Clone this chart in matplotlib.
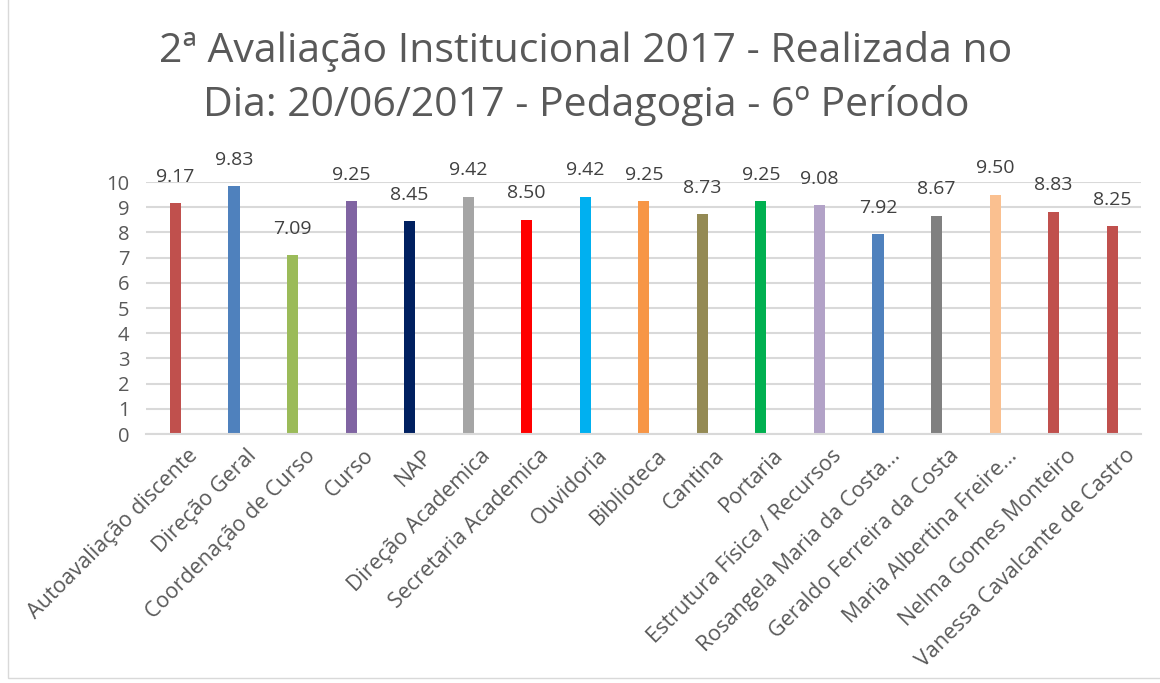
import matplotlib.pyplot as plt
from matplotlib.patches import Rectangle
from matplotlib.transforms import ScaledTranslation

plt.rcParams['font.family'] = ['Open Sans', 'DejaVu Sans']

# dados da avaliacao
labels = ['Autoavaliação discente', 'Direção Geral', 'Coordenação de Curso', 'Curso',
          'NAP', 'Direção Academica', 'Secretaria Academica', 'Ouvidoria', 'Biblioteca',
          'Cantina', 'Portaria', 'Estrutura Física / Recursos', 'Rosangela Maria da Costa...',
          'Geraldo Ferreira da Costa', 'Maria Albertina Freire...', 'Nelma Gomes Monteiro',
          'Vanessa Cavalcante de Castro']
notas = [9.17, 9.83, 7.09, 9.25, 8.45, 9.42, 8.50, 9.42, 9.25, 8.73, 9.25, 9.08,
         7.92, 8.67, 9.50, 8.83, 8.25]
cores = ['#C0504D', '#4F81BD', '#9BBB59', '#8064A2', '#002060', '#A5A5A5', '#FF0000',
         '#00B0F0', '#F79646', '#948A54', '#00B050', '#B2A2C7', '#4F81BD', '#808080',
         '#FAC090', '#C0504D', '#C0504D']
titulo = '2ª Avaliação Institucional 2017 - Realizada no\nDia: 20/06/2017 - Pedagogia - 6º Período'

fig = plt.figure(figsize=(11.6, 6.83), dpi=100)
ax = fig.add_axes([0.126, 0.3645, 0.858, 0.369])

x = range(len(labels))
ax.bar(x, notas, 0.19, color=cores, zorder=2)
for i, v in enumerate(notas):
    ax.annotate('%.2f' % v, (i, v), xytext=(0, 19), textcoords='offset points',
                ha='center', va='center', fontsize=14, color='#404040',
                annotation_clip=False)

ax.set_xlim(-0.5, len(labels) - 0.5)
ax.set_ylim(0, 10)
ax.set_yticks(range(0, 11))
ax.grid(axis='y', color='#D9D9D9', linewidth=1.5, zorder=0)
for s in ['top', 'right', 'left']:
    ax.spines[s].set_visible(False)
ax.spines['bottom'].set_color('#D9D9D9')
ax.spines['bottom'].set_linewidth(1.5)
ax.tick_params(axis='y', length=0, labelsize=14.5, labelcolor='#595959', pad=12)
ax.tick_params(axis='x', length=0, labelsize=15.5, labelcolor='#595959', pad=8)
ax.set_xticks(list(x))
ax.set_xticklabels(labels, rotation=45, ha='right', rotation_mode='anchor')
desloc = ScaledTranslation(0.12, 0, fig.dpi_scale_trans)
for t in ax.get_xticklabels():
    t.set_transform(t.get_transform() + desloc)

fig.text(0.505, 0.885, titulo, ha='center', va='center', fontsize=29.5,
         color='#595959', linespacing=1.4)

# moldura do grafico
fig.patches.append(Rectangle((0.007, 0.008), 1.2, 1.2, transform=fig.transFigure,
                             fill=False, edgecolor='#D9D9D9', linewidth=1))

fig.savefig('out.png', dpi=100)
